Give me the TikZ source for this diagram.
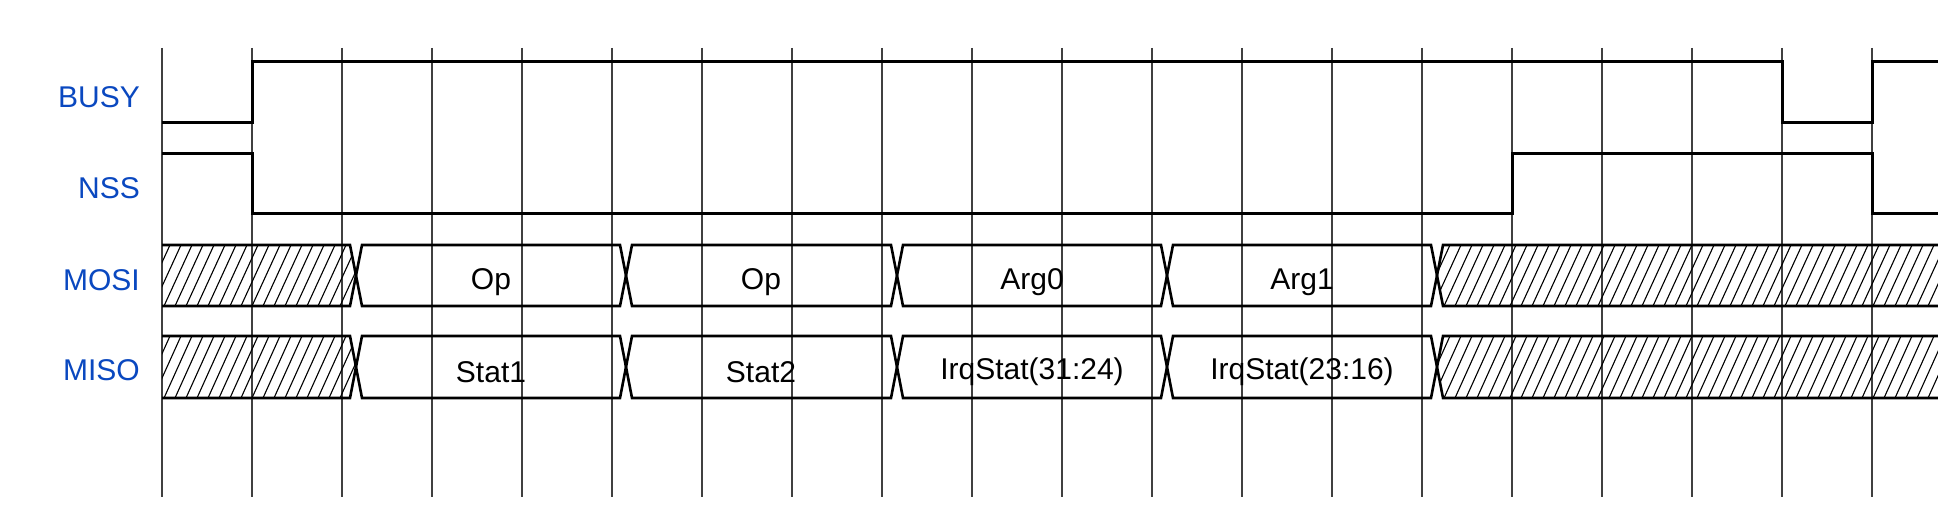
\documentclass[tikz,border=0pt]{standalone}
\usepackage{fontspec}
\setmainfont{Liberation Sans}
\definecolor{lblblue}{HTML}{0A48C0}
\begin{document}
\begin{tikzpicture}[x=1pt,y=-1pt,
  grid/.style={line width=1.1pt,black!75},
  sig/.style={line width=3pt,line join=miter},
  bus/.style={line width=2.6pt,line join=miter},
  hatch/.style={line width=1.1pt},
  lbl/.style={anchor=east,text=lblblue,font=\fontsize{30}{34}\selectfont,inner sep=0pt},
  dat/.style={font=\fontsize{30}{34}\selectfont,inner sep=0pt}]
\useasboundingbox[fill=white] (0,0) rectangle (1938,526);
% grid
\foreach \k in {0,...,19}{\draw[grid] (162+90*\k,48) -- (162+90*\k,497);}
% labels
\node[lbl] (lbusy) at (140,97) {BUSY};
\node[lbl] (lnss) at (140,188) {NSS};
\node[lbl] (lmosi) at (140,280) {MOSI};
\node[lbl] (lmiso) at (140,370) {MISO};
% BUSY
\draw[sig] (162,123) -- (252,123) -- (252,62) -- (1782,62) -- (1782,123) -- (1872,123) -- (1872,62) -- (1938,62);
% NSS
\draw[sig] (162,154) -- (252,154) -- (252,214) -- (1512,214) -- (1512,154) -- (1872,154) -- (1872,214) -- (1938,214);
% buses
\foreach \t/\b/\m/\row in {245/306/275.5/mosi,336/398/367/miso}{
  \begin{scope}
    \clip (162,\t) -- (350,\t) -- (356,\m) -- (350,\b) -- (162,\b) -- cycle;
    \foreach \x in {120,131,...,360}{\draw[hatch] (\x,\b) -- (\x+28,\t);}
  \end{scope}
  \begin{scope}
    \clip (1443,\t) -- (1938,\t) -- (1938,\b) -- (1443,\b) -- (1437,\m) -- cycle;
    \foreach \x in {1400,1411,...,1940}{\draw[hatch] (\x,\b) -- (\x+28,\t);}
  \end{scope}
  \draw[bus] (162,\t) -- (350,\t) -- (356,\m) -- (350,\b) -- (162,\b);
  \draw[bus] (1938,\t) -- (1443,\t) -- (1437,\m) -- (1443,\b) -- (1938,\b);
  \foreach \a/\c in {356/626,626/897,897/1167,1167/1437}{
    \draw[bus] (\a,\m) -- (\a+6,\t) -- (\c-6,\t) -- (\c,\m) -- (\c-6,\b) -- (\a+6,\b) -- cycle;
  }
}
\node[dat] (op1) at (491,282) {Op};
\node[dat] (op2) at (761,282) {Op};
\node[dat] (arg0) at (1032,282) {Arg0};
\node[dat] (arg1) at (1302,282) {Arg1};
\node[dat] (st1) at (491,372) {Stat1};
\node[dat] (st2) at (761,372) {Stat2};
\node[dat] (irq1) at (1032,372) {IrqStat(31:24)};
\node[dat] (irq2) at (1302,372) {IrqStat(23:16)};
\end{tikzpicture}
\end{document}
